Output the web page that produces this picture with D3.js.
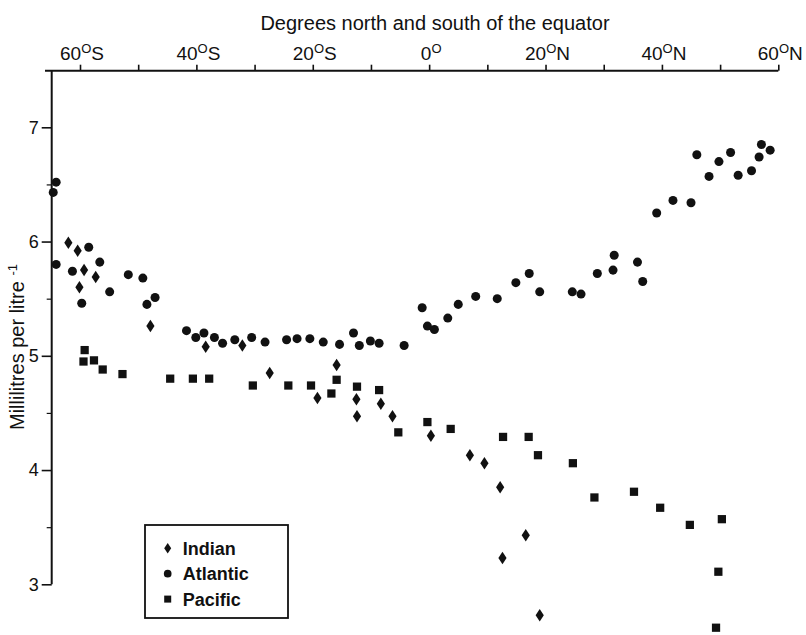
<!DOCTYPE html>
<html>
<head>
<meta charset="utf-8">
<script src="https://cdn.jsdelivr.net/npm/d3@7"></script>
<style>
    body { margin: 0; background: #fff; }
    svg { display: block; font-family: "Liberation Sans", Arial, Helvetica, sans-serif; }
</style>
</head>
<body>
<div id="chart"></div>
<script>
// latitude in degrees (south negative), oxygen in ml per litre
var atlanticLat = [-64.1, -64.6, -64.1, -61.3, -58.5, -56.6, -59.7, -54.9, -51.7, -49.2, -48.5, -47.1,
    -41.7, -40.1, -38.7, -36.9, -35.5, -33.4, -30.5, -28.2, -24.5, -22.7, -20.5, -18.2, -15.4, -13.0,
    -12.0, -10.1, -8.6, -4.3, -1.2, -0.3, 0.9, 3.2, 5.0, 8.0, 11.7, 14.9, 17.2, 19.0, 24.6, 26.1, 28.9,
    31.8, 31.6, 35.8, 36.7, 39.1, 41.9, 45.0, 46.0, 48.1, 49.8, 51.8, 53.1, 55.4, 56.7, 57.1, 58.6];
var atlanticO2 = [6.52, 6.43, 5.80, 5.74, 5.95, 5.82, 5.46, 5.56, 5.71, 5.68, 5.45, 5.51,
    5.22, 5.16, 5.20, 5.16, 5.11, 5.14, 5.16, 5.12, 5.14, 5.15, 5.15, 5.12, 5.10, 5.20,
    5.09, 5.13, 5.11, 5.09, 5.42, 5.26, 5.23, 5.33, 5.45, 5.52, 5.50, 5.64, 5.72, 5.56, 5.56, 5.54, 5.72,
    5.88, 5.75, 5.82, 5.65, 6.25, 6.36, 6.34, 6.76, 6.57, 6.70, 6.78, 6.58, 6.62, 6.74, 6.85, 6.80];

var indianLat = [-62.0, -60.4, -59.3, -60.1, -57.3, -47.9, -38.4, -32.1, -27.4, -19.2, -15.9,
    -12.5, -12.4, -8.3, -6.3, 0.3, 7.0, 9.5, 12.2, 16.6, 12.6, 19.0];
var indianO2 = [5.99, 5.92, 5.75, 5.60, 5.69, 5.26, 5.08, 5.09, 4.85, 4.63, 4.92,
    4.62, 4.47, 4.58, 4.47, 4.30, 4.13, 4.06, 3.85, 3.43, 3.23, 2.73];

var pacificLat = [-59.2, -59.4, -57.6, -56.1, -52.7, -44.5, -40.6, -37.8, -30.3, -24.2, -20.3, -16.8,
    -15.9, -12.4, -8.6, -5.3, -0.3, 3.7, 12.7, 17.1, 18.7, 24.7, 28.4, 35.2, 39.7, 44.8, 50.3, 49.7, 49.3];
var pacificO2 = [5.05, 4.95, 4.96, 4.88, 4.84, 4.80, 4.80, 4.80, 4.74, 4.74, 4.74, 4.67,
    4.79, 4.73, 4.70, 4.33, 4.42, 4.36, 4.29, 4.29, 4.13, 4.06, 3.76, 3.81, 3.67, 3.52, 3.57, 3.11, 2.62];

var latTicks = [-60, -50, -40, -30, -20, -10, 0, 10, 20, 30, 40, 50, 60];
var latLabels = [-60, -40, -20, 0, 20, 40, 60];
var o2Ticks = [3, 4, 5, 6, 7];
var o2MinorTicks = [3.5, 4.5, 5.5, 6.5];
var seriesNames = ["Indian", "Atlantic", "Pacific"];

var width = 806, height = 635;
var ink = "#111";

var x = d3.scaleLinear().domain([-60, 60]).range([80, 778.3]);
var y = d3.scaleLinear().domain([3, 7]).range([584.3, 127.3]);

var svg = d3.select("#chart").append("svg")
    .attr("width", width)
    .attr("height", height);

// diamond is narrower than d3's own, so draw it by hand
function diamond(w, h) {
    return "M0," + (-h / 2) + "L" + (w / 2) + ",0L0," + (h / 2) + "L" + (-w / 2) + ",0Z";
}
var shapes = {
    Indian: function (s) { return diamond(8.2 * s, 12.5 * s); },
    Atlantic: function (s) { return d3.symbol(d3.symbolCircle, 64 * s * s)(); },
    Pacific: function (s) { return d3.symbol(d3.symbolSquare, 68 * s * s)(); }
};

// top axis: degrees
var topAxis = d3.axisTop(x).tickValues(latTicks).tickSize(6).tickSizeOuter(0).tickFormat("");
var gTop = svg.append("g").attr("transform", "translate(0,70.7)").call(topAxis);
gTop.select(".domain").remove();
gTop.selectAll(".tick line").attr("stroke", ink).attr("stroke-width", 1.6);
svg.append("line")
    .attr("x1", 45).attr("x2", x(60))
    .attr("y1", 70.7).attr("y2", 70.7)
    .attr("stroke", ink).attr("stroke-width", 2);

var lbl = svg.append("g").selectAll("text")
    .data(latLabels)
    .enter().append("text")
    .attr("x", function (d) { return x(d) + 2; })
    .attr("y", 59.5)
    .attr("text-anchor", "middle")
    .attr("font-size", 19)
    .attr("fill", ink);
lbl.append("tspan").text(function (d) { return Math.abs(d); });
lbl.append("tspan").attr("dy", -7).attr("font-size", 13).text("O");
lbl.append("tspan").attr("dy", 7).text(function (d) { return d < 0 ? "S" : (d > 0 ? "N" : ""); });

svg.append("text")
    .attr("x", 435).attr("y", 30)
    .attr("text-anchor", "middle")
    .attr("font-size", 20)
    .attr("fill", ink)
    .text("Degrees north and south of the equator");

// left axis: ml per litre
var leftAxis = d3.axisLeft(y).tickValues(o2Ticks).tickSize(10).tickPadding(3)
    .tickSizeOuter(0).tickFormat(d3.format("d"));
var gLeft = svg.append("g").attr("transform", "translate(51.7,0)").call(leftAxis);
gLeft.select(".domain").remove();
gLeft.selectAll(".tick line").attr("stroke", ink).attr("stroke-width", 1.6);
gLeft.selectAll(".tick text").attr("font-size", 18).attr("fill", ink).attr("font-family", null);

var minorAxis = d3.axisLeft(y).tickValues(o2MinorTicks).tickSize(5).tickFormat("");
var gMinor = svg.append("g").attr("transform", "translate(51.7,0)").call(minorAxis);
gMinor.select(".domain").remove();
gMinor.selectAll(".tick line").attr("stroke", ink).attr("stroke-width", 1.2);

svg.append("line")
    .attr("x1", 51.7).attr("x2", 51.7)
    .attr("y1", 70).attr("y2", y(3))
    .attr("stroke", ink).attr("stroke-width", 2);

var yTitle = svg.append("text")
    .attr("transform", "translate(24,347) rotate(-90)")
    .attr("text-anchor", "middle")
    .attr("font-size", 20)
    .attr("fill", ink);
yTitle.append("tspan").text("Millilitres per litre ");
yTitle.append("tspan").attr("dy", -7).attr("font-size", 13).text("-1");

// points
function plot(name, lats, vals) {
    svg.append("g").selectAll("path")
        .data(d3.zip(lats, vals))
        .enter().append("path")
        .attr("transform", function (d) { return "translate(" + x(d[0]) + "," + y(d[1]) + ")"; })
        .attr("d", shapes[name](1))
        .attr("fill", ink);
}
plot("Atlantic", atlanticLat, atlanticO2);
plot("Indian", indianLat, indianO2);
plot("Pacific", pacificLat, pacificO2);

// legend
var legend = svg.append("g");
legend.append("rect")
    .attr("x", 145).attr("y", 525)
    .attr("width", 143).attr("height", 93)
    .attr("fill", "#fff")
    .attr("stroke", ink).attr("stroke-width", 1.8);
var item = legend.selectAll("g.item")
    .data(seriesNames)
    .enter().append("g")
    .attr("class", "item")
    .attr("transform", function (d, i) { return "translate(167.7," + (548.3 + i * 25.4) + ")"; });
item.append("path")
    .attr("d", function (d) { return shapes[d](0.85); })
    .attr("fill", ink);
item.append("text")
    .attr("x", 15).attr("y", 6.5)
    .attr("font-size", 18)
    .attr("font-weight", "bold")
    .attr("fill", ink)
    .text(function (d) { return d; });
</script>
</body>
</html>
